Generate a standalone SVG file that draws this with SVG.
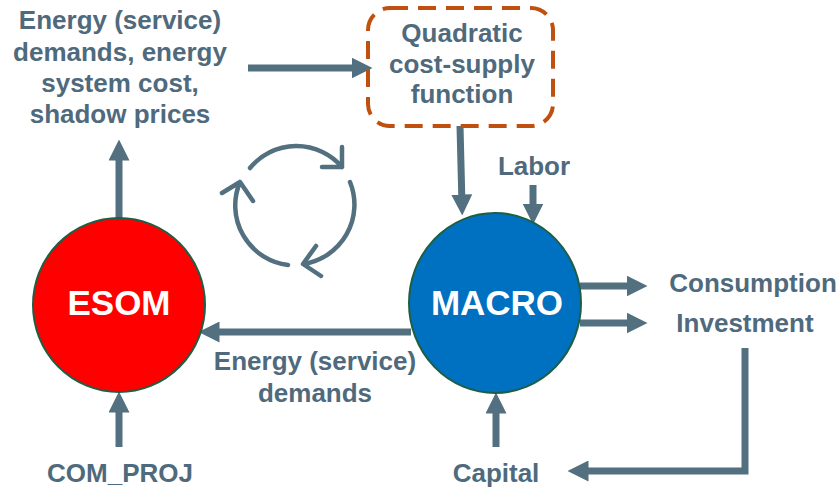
<svg xmlns="http://www.w3.org/2000/svg" width="840" height="489" viewBox="0 0 840 489">
<defs>
<style>
.lbl{font-family:"Liberation Sans",Arial,sans-serif;font-weight:bold;font-size:26px;fill:#4f6a7c;text-anchor:middle}
.big{font-family:"Liberation Sans",Arial,sans-serif;font-weight:bold;font-size:35px;fill:#ffffff;text-anchor:middle}
.arr{fill:none;stroke:#52707f;stroke-width:7;marker-end:url(#ah)}
.cyc{fill:none;stroke:#52707f;stroke-width:4.5;stroke-linecap:round;stroke-linejoin:round}
</style>
<marker id="ah" viewBox="0 0 20 20" refX="10" refY="10" markerWidth="21" markerHeight="21" markerUnits="userSpaceOnUse" orient="auto">
<path d="M0,0 L20,10 L0,20 Z" fill="#52707f"/>
</marker>
</defs>
<rect width="840" height="489" fill="#ffffff"/>
<g id="connectors">
<path class="arr" d="M119,218 V150"/>
<path class="arr" d="M248,68 H362"/>
<path class="arr" d="M460,126 L462,205"/>
<path class="arr" d="M533,185 V214"/>
<path class="arr" d="M580,286 H637"/>
<path class="arr" d="M580,323 H637"/>
<path class="arr" d="M745,348 V471 H578"/>
<path class="arr" d="M496,447 V403"/>
<path class="arr" d="M411,332 H209"/>
<path class="arr" d="M119,447 V402"/>
</g>
<g id="cycle">
<path class="cyc" d="M250,168 A60,60 0 0 1 342,167 M342,147 L342,167 L322,167"/>
<path class="cyc" d="M350,182 A60,60 0 0 1 303,264 M316,246 L303,264 L321,276"/>
<path class="cyc" d="M288,265 A60,60 0 0 1 240,182 M222,193 L240,182 L253,201"/>
</g>
<g id="esom">
<ellipse cx="119" cy="305" rx="86" ry="87" fill="#ff0000" stroke="#1e5e44" stroke-width="2"/>
<text class="big" x="119" y="315">ESOM</text>
</g>
<g id="macro">
<ellipse cx="495" cy="303" rx="86" ry="90" fill="#0070c0" stroke="#1e5e44" stroke-width="2"/>
<text class="big" x="497" y="315">MACRO</text>
</g>
<g id="quadratic">
<rect x="368" y="8" width="185" height="118" rx="22" ry="22" fill="none" stroke="#c0500f" stroke-width="4" stroke-dasharray="18,10"/>
<text class="lbl" x="462" y="42">Quadratic</text>
<text class="lbl" x="462" y="73">cost-supply</text>
<text class="lbl" x="462" y="103">function</text>
</g>
<g id="esom-outputs">
<text class="lbl" x="120" y="29">Energy (service)</text>
<text class="lbl" x="120" y="61">demands, energy</text>
<text class="lbl" x="120" y="92">system cost,</text>
<text class="lbl" x="120" y="123">shadow prices</text>
</g>
<g id="labor"><text class="lbl" x="534" y="175">Labor</text></g>
<g id="consumption"><text class="lbl" x="753" y="292">Consumption</text></g>
<g id="investment"><text class="lbl" x="745" y="332">Investment</text></g>
<g id="demands"><text class="lbl" x="315" y="370">Energy (service)</text><text class="lbl" x="315" y="402">demands</text></g>
<g id="com_proj"><text class="lbl" x="120" y="482">COM_PROJ</text></g>
<g id="capital"><text class="lbl" x="496" y="482">Capital</text></g>
</svg>
